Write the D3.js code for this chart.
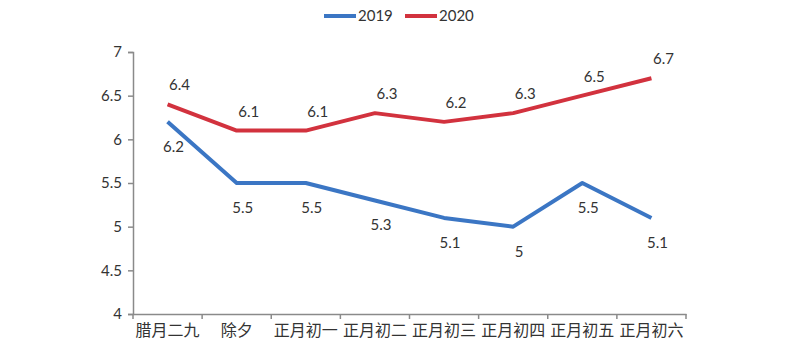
<!DOCTYPE html>
<html><head><meta charset="utf-8">
<script src="https://cdn.jsdelivr.net/npm/d3@7"></script>
<style>body{margin:0;background:#fff}</style>
</head><body><svg id="c" width="808" height="357"></svg>
<script>
const categories = ["腊月二九","除夕","正月初一","正月初二","正月初三","正月初四","正月初五","正月初六"];
const series2019 = [6.2,5.5,5.5,5.3,5.1,5.0,5.5,5.1];
const series2020 = [6.4,6.1,6.1,6.3,6.2,6.3,6.5,6.7];
const seriesNames = ["2019","2020"];
const yTicks = [4,4.5,5,5.5,6,6.5,7];
const colors = ["#3B76C4","#D2323E"];

(function(){
const svg = d3.select("#c");
const mL = 133, mR = 686, mT = 52, mB = 314;
const x = d3.scaleBand().domain(categories).range([mL,mR]);
const y = d3.scaleLinear().domain([4,7]).range([mB,mT]);
const font = "Lato, 'Noto Sans CJK SC', sans-serif";
const axisColor = "#8a8a8a", textColor = "#333333";

const ya = svg.append("g").attr("transform",`translate(${mL},0)`)
  .call(d3.axisLeft(y).tickValues(yTicks).tickSize(5).tickPadding(6).tickFormat(d=>String(d)));
ya.select(".domain").attr("stroke",axisColor).attr("stroke-width",1.5);
ya.selectAll(".tick line").attr("stroke",axisColor).attr("stroke-width",1.5);
ya.selectAll("text").attr("fill",textColor).style("font-family",font).style("font-size","15px");

const xa = svg.append("g").attr("transform",`translate(0,${mB})`)
  .call(d3.axisBottom(x).tickSize(0).tickPadding(11));
xa.select(".domain").attr("stroke",axisColor).attr("stroke-width",1.5);
xa.selectAll("text").attr("fill",textColor).style("font-family","'Noto Sans CJK SC', sans-serif").style("font-size","16px");
const bounds = categories.map(c=>x(c)).concat([mR]);
svg.append("g").selectAll("line").data(bounds).join("line")
  .attr("x1",d=>d).attr("x2",d=>d).attr("y1",mB).attr("y2",mB+5)
  .attr("stroke",axisColor).attr("stroke-width",1.5);

const cx = c => x(c) + x.bandwidth()/2;
const line = d3.line().x((d,i)=>cx(categories[i])).y(d=>y(d));
[series2019, series2020].forEach((s,k)=>{
  svg.append("path").datum(s).attr("d",line).attr("fill","none")
    .attr("stroke",colors[k]).attr("stroke-width",4).attr("stroke-linejoin","round");
});

svg.append("g").selectAll("text").data(series2019).join("text")
  .attr("x",(d,i)=>cx(categories[i])+6).attr("y",(d,i)=>y(d)+30)
  .attr("text-anchor","middle").attr("fill",textColor)
  .style("font-family",font).style("font-size","15px").text(d=>String(d));
svg.append("g").selectAll("text").data(series2020).join("text")
  .attr("x",(d,i)=>cx(categories[i])+12).attr("y",(d,i)=>y(d)-14)
  .attr("text-anchor","middle").attr("fill",textColor)
  .style("font-family",font).style("font-size","15px").text(d=>String(d));

const lx = [324,405];
seriesNames.forEach((n,k)=>{
  svg.append("line").attr("x1",lx[k]).attr("x2",lx[k]+32).attr("y1",16).attr("y2",16)
    .attr("stroke",colors[k]).attr("stroke-width",4);
  svg.append("text").attr("x",lx[k]+34).attr("y",21).attr("fill",textColor)
    .style("font-family",font).style("font-size","15px").text(n);
});
})();
</script></body></html>
